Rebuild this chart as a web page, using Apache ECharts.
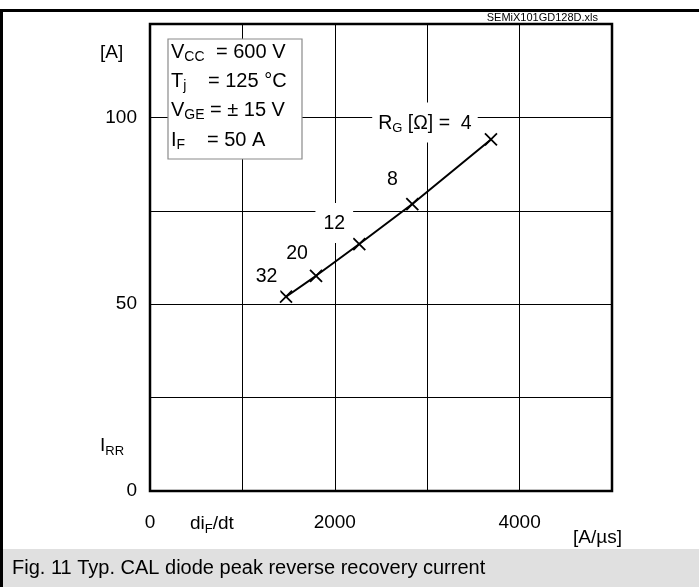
<!DOCTYPE html>
<html>
<head>
<meta charset="utf-8">
<script src="https://cdn.jsdelivr.net/npm/echarts@6/dist/echarts.min.js"></script>
<style>
  html, body { margin: 0; padding: 0; background: #fff; }
  #chart { width: 699px; height: 587px; }
</style>
</head>
<body>
<div id="chart"></div>
<script>
// Peak reverse recovery current vs. current slope, one point per gate resistor
const gateResistors = ['32', '20', '12', '8', '4'];
const diFdt = [1472, 1797, 2265, 2839, 3690];      // A/µs
const iRR = [52.0, 57.6, 66.1, 76.8, 94.1];         // A

const xTickLabels = [0, 2000, 4000];
const yTickLabels = [0, 50, 100];

const FONT = 'Liberation Sans, Arial, sans-serif';

// label placement next to each marker (offset from marker centre)
const labelOffsets = {
  '32': [-23, -21], '20': [-19, -22], '12': [-25, -21], '8': [-20, -24], '4': [-66, -17]
};
const labelPadding = {
  '32': [8, 3, 6, 10], '20': [2, 2, 2, 2], '12': [9, 8, 7, 8], '8': [2, 2, 2, 2], '4': [9, 6, 7, 6]
};

function richSet(size) {
  return {
    t: { fontFamily: FONT, fontSize: size, color: '#000', lineHeight: 24 },
    s: { fontFamily: FONT, fontSize: Math.round(size * 0.68), color: '#000', lineHeight: 24, padding: [10, 0, 0, 0] }
  };
}
const labelRich = richSet(19.5);
const boxRich = richSet(20);

const points = diFdt.map((x, i) => {
  const name = gateResistors[i];
  return {
    name: name,
    value: [x, iRR[i]],
    label: {
      show: true,
      position: 'inside',
      align: 'center',
      verticalAlign: 'middle',
      offset: labelOffsets[name],
      backgroundColor: '#fff',
      padding: labelPadding[name],
      formatter: name === '4' ? '{t|R}{s|G}{t| [Ω] =  4}' : '{t|' + name + '}',
      rich: labelRich
    }
  };
});

const chart = echarts.init(document.getElementById('chart'), null, { renderer: 'canvas' });

function txt(x, y, text, opts) {
  return {
    type: 'text', x: x, y: y, z: 100,
    style: Object.assign({
      text: text, fontFamily: FONT, fontSize: 19, fill: '#000',
      verticalAlign: 'middle', rich: boxRich
    }, opts || {})
  };
}

chart.setOption({
  animation: false,
  backgroundColor: '#fff',
  grid: {
    left: 150, top: 24, width: 462, height: 467,
    show: true, borderColor: '#000', borderWidth: 2.5, backgroundColor: 'transparent'
  },
  xAxis: {
    type: 'value', min: 0, max: 5000, interval: 1000,
    axisLine: { show: false }, axisTick: { show: false },
    splitLine: { show: true, lineStyle: { color: '#000', width: 1 } },
    axisLabel: {
      margin: 22, fontFamily: FONT, fontSize: 19, color: '#000',
      formatter: v => xTickLabels.includes(v) ? String(v) : ''
    }
  },
  yAxis: {
    type: 'value', min: 0, max: 125, interval: 25,
    axisLine: { show: false }, axisTick: { show: false },
    splitLine: { show: true, lineStyle: { color: '#000', width: 1 } },
    axisLabel: {
      margin: 13, fontFamily: FONT, fontSize: 19, color: '#000',
      formatter: v => yTickLabels.includes(v) ? String(v) : ''
    }
  },
  series: [{
    type: 'line',
    data: points,
    lineStyle: { color: '#000', width: 2 },
    symbol: 'path://M0,0L10,10M10,0L0,10',
    symbolSize: 12,
    itemStyle: { color: 'transparent', borderColor: '#000', borderWidth: 1.8 },
    emphasis: { disabled: true },
    z: 3
  }],
  graphic: [
    // page frame and caption strip
    { type: 'rect', z: 90, shape: { x: 0, y: 9, width: 699, height: 3 }, style: { fill: '#000' } },
    { type: 'rect', z: 90, shape: { x: 0, y: 9, width: 3, height: 578 }, style: { fill: '#000' } },
    { type: 'rect', z: 90, shape: { x: 3, y: 549, width: 696, height: 38 }, style: { fill: '#e0e0e0' } },
    txt(12, 568, 'Fig. 11 Typ. CAL diode peak reverse recovery current', { fontSize: 20 }),
    txt(598, 18, 'SEMiX101GD128D.xls', { fontSize: 11, align: 'right' }),

    // axis captions
    txt(100, 53, '[A]'),
    txt(100, 446, '{t|I}{s|RR}', { rich: richSet(19) }),
    txt(190, 524, '{t|di}{s|F}{t|/dt}', { rich: richSet(19) }),
    txt(573, 538, '[A/µs]'),

    // test conditions box
    { type: 'rect', z: 95, shape: { x: 168, y: 39, width: 134, height: 120 },
      style: { fill: '#fff', stroke: '#8a8a8a', lineWidth: 1.2 } },
    txt(171, 52, '{t|V}{s|CC}'),
    txt(216, 52, '{t|= 600 V}'),
    txt(171, 81, '{t|T}{s|j}'),
    txt(208, 81, '{t|= 125 °C}'),
    txt(171, 110, '{t|V}{s|GE}'),
    txt(210, 110, '{t|= ± 15 V}'),
    txt(171, 140, '{t|I}{s|F}'),
    txt(207, 140, '{t|= 50 A}')
  ]
});
</script>
</body>
</html>
